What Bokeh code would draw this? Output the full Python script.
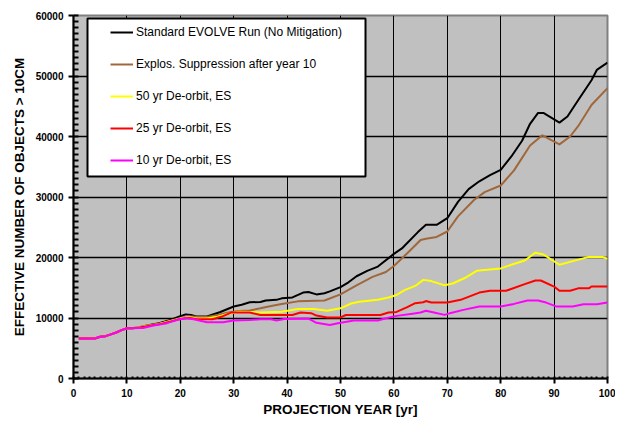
from bokeh.plotting import figure
from bokeh.models import Legend, LegendItem, BoxAnnotation, SingleIntervalTicker, Range1d
from bokeh.embed import file_html
from bokeh.resources import INLINE

# ---- data ----
early_years = [1, 4, 5, 6, 7, 8, 9, 10, 11]
early_vals = [6600, 6600, 6900, 7000, 7300, 7600, 8000, 8300, 8300]

std_years = [12.5, 14, 16, 18, 20, 21, 22, 23, 25, 27.5, 30, 31.5, 33, 35, 36, 38, 39, 41, 43, 44,
             45.5, 47, 48, 50, 51.5, 53, 55, 57, 60, 61.5, 62.5, 64.5, 66, 68, 70, 72, 74, 76, 78,
             80, 82, 84, 85.5, 87, 88, 91, 92.5, 94.5, 97, 98, 100]
std_vals = [8500, 8800, 9150, 9650, 10300, 10600, 10500, 10250, 10250, 11000, 11900, 12200, 12600,
            12650, 12900, 13000, 13250, 13400, 14200, 14300, 13900, 14100, 14400, 15100, 15900,
            16900, 17800, 18500, 20600, 21500, 22400, 24200, 25400, 25400, 26500, 29200, 31300,
            32600, 33600, 34500, 36700, 39300, 42100, 43900, 43900, 42300, 43300, 46000, 49300,
            51000, 52200]

es_years = [12.5, 16, 18, 20, 21.5, 23, 25, 27, 29, 31, 33, 35, 37, 39, 42, 47, 50, 53, 56, 58.5,
            60, 62.5, 65, 66, 68, 70, 72, 75, 77, 80, 82.5, 85.5, 87.8, 91, 93, 94.5, 97, 100]
es_vals = [8450, 9000, 9500, 10000, 10300, 10200, 10150, 10500, 10900, 11150, 11250, 11600, 12000,
           12300, 12750, 12900, 13900, 15400, 16800, 17600, 18600, 20700, 22900, 23100, 23400,
           24300, 26800, 29500, 30800, 31900, 34400, 38500, 40200, 38700, 40000, 41700, 45200, 48000]

d50_years = [12, 14, 16, 18, 20, 21.5, 23, 25, 27, 29, 31, 33, 35, 39, 42, 45, 47.5, 50, 52, 53.5,
             57, 59, 60.5, 62, 64, 65.5, 67, 69.5, 71, 73.5, 75.5, 80, 82, 84.5, 86.5, 88, 91,
             93.5, 96.5, 99, 100]
d50_vals = [8450, 8750, 9000, 9450, 9900, 10150, 9950, 9900, 10200, 10700, 11050, 11000, 10900,
            11050, 11500, 11500, 11200, 11600, 12400, 12700, 13000, 13400, 13800, 14600, 15300,
            16300, 16100, 15400, 15700, 16700, 17800, 18200, 18800, 19500, 20800, 20500, 18800,
            19400, 20100, 20100, 19800]

d25_years = [12, 14, 16, 18, 20, 21.5, 23, 26, 28, 29.5, 33, 35, 41, 42.5, 44.5, 45.5, 47.5, 50,
             51, 57.5, 59, 60.5, 62.5, 64, 65.5, 66, 67, 70, 72.5, 76, 78, 81, 84.5, 86.5, 87.5,
             90, 91, 93, 94.5, 96.5, 97, 100]
d25_vals = [8400, 8700, 8950, 9400, 9850, 10050, 9850, 9800, 10300, 10900, 10900, 10500, 10500,
            10900, 10800, 10400, 10100, 10100, 10500, 10500, 10900, 11000, 11800, 12450, 12600,
            12800, 12550, 12550, 13000, 14200, 14500, 14500, 15600, 16200, 16200, 15200, 14500,
            14500, 14900, 14900, 15200, 15200]

d10_years = [12.5, 13, 15, 17.5, 19.5, 21, 22.5, 25, 28, 30, 33, 35, 37, 38, 39.5, 44, 45.5, 48,
             49.5, 52.5, 57, 58.5, 60.5, 63.5, 65, 66, 67.5, 69.5, 70.5, 73, 76, 80, 82.5, 85, 87,
             88.5, 90.5, 93.5, 95.5, 98, 100]
d10_vals = [8350, 8350, 8750, 9150, 9700, 10000, 9800, 9300, 9300, 9600, 9650, 9800, 9800, 9580,
            9850, 9900, 9200, 8860, 9140, 9580, 9580, 9970, 10350, 10700, 10900, 11200, 10900,
            10520, 10800, 11340, 11890, 11890, 12330, 12880, 12880, 12550, 11890, 11890, 12280,
            12280, 12550]

series_labels = ["Standard EVOLVE Run (No Mitigation)", "Explos. Suppression after year 10",
                 "50 yr De-orbit, ES", "25 yr De-orbit, ES", "10 yr De-orbit, ES"]
series_colors = ["#000000", "#A0673A", "#FFFF00", "#FF0000", "#FF00FF"]
series_years = [std_years, es_years, d50_years, d25_years, d10_years]
series_vals = [std_vals, es_vals, d50_vals, d25_vals, d10_vals]

x_title = "PROJECTION YEAR [yr]"
y_title = "EFFECTIVE NUMBER OF OBJECTS > 10CM"

FONT = "Liberation Sans"

p = figure(width=615, height=419, output_backend="svg", toolbar_location=None,
           x_range=Range1d(0, 100), y_range=Range1d(0, 60000),
           min_border_left=73, min_border_right=8, min_border_top=15, min_border_bottom=40)

p.background_fill_color = "#C0C0C0"
p.border_fill_color = "white"
p.outline_line_color = "#808080"
p.outline_line_width = 2

p.xaxis.ticker = SingleIntervalTicker(interval=10, num_minor_ticks=10)
p.yaxis.ticker = SingleIntervalTicker(interval=10000, num_minor_ticks=10)

p.xgrid.grid_line_color = "black"
p.xgrid.grid_line_width = 1
p.ygrid.grid_line_color = "black"
p.ygrid.grid_line_width = 1.5

for ax in (p.xaxis[0], p.yaxis[0]):
    ax.axis_line_color = "black"
    ax.axis_line_width = 2
    ax.major_tick_line_color = "black"
    ax.major_tick_line_width = 2
    ax.major_tick_in = 0
    ax.major_tick_out = 5
    ax.minor_tick_line_color = "black"
    ax.minor_tick_line_width = 2
    ax.minor_tick_out = 0
    ax.major_label_text_font = FONT
    ax.major_label_text_font_style = "bold"
    ax.major_label_text_font_size = "10px"
    ax.major_label_text_color = "black"
    ax.axis_label_text_font = FONT
    ax.axis_label_text_font_style = "bold"
    ax.axis_label_text_font_size = "13.5px"
    ax.axis_label_text_color = "black"

p.xaxis.minor_tick_in = 2
p.yaxis.minor_tick_in = 5
p.xaxis.major_label_standoff = 5
p.yaxis.major_label_standoff = 5
p.xaxis.axis_label_standoff = 2
p.yaxis.axis_label_standoff = 6
p.xaxis.axis_label = x_title
p.yaxis.axis_label = y_title

items = []
for lab, col, yrs, vals in zip(series_labels, series_colors, series_years, series_vals):
    r = p.line(early_years + yrs, early_vals + vals, line_color=col, line_width=2,
               line_join="round")
    items.append(LegendItem(label=lab, renderers=[r]))

box = BoxAnnotation(left=14, right=292, bottom=202, top=360,
                    left_units="screen", right_units="screen",
                    top_units="screen", bottom_units="screen",
                    fill_color="white", fill_alpha=1.0,
                    line_color="black", line_width=2, line_alpha=1.0)
p.add_layout(box)

legend = Legend(items=items, location=(31, 204),
                border_line_alpha=0, background_fill_alpha=0,
                glyph_width=23, glyph_height=16, label_height=16,
                label_standoff=3, padding=6, spacing=16,
                label_text_font=FONT, label_text_font_size="12px",
                label_text_color="black")
p.add_layout(legend)

open("out.html", "w").write(file_html(p, INLINE))
